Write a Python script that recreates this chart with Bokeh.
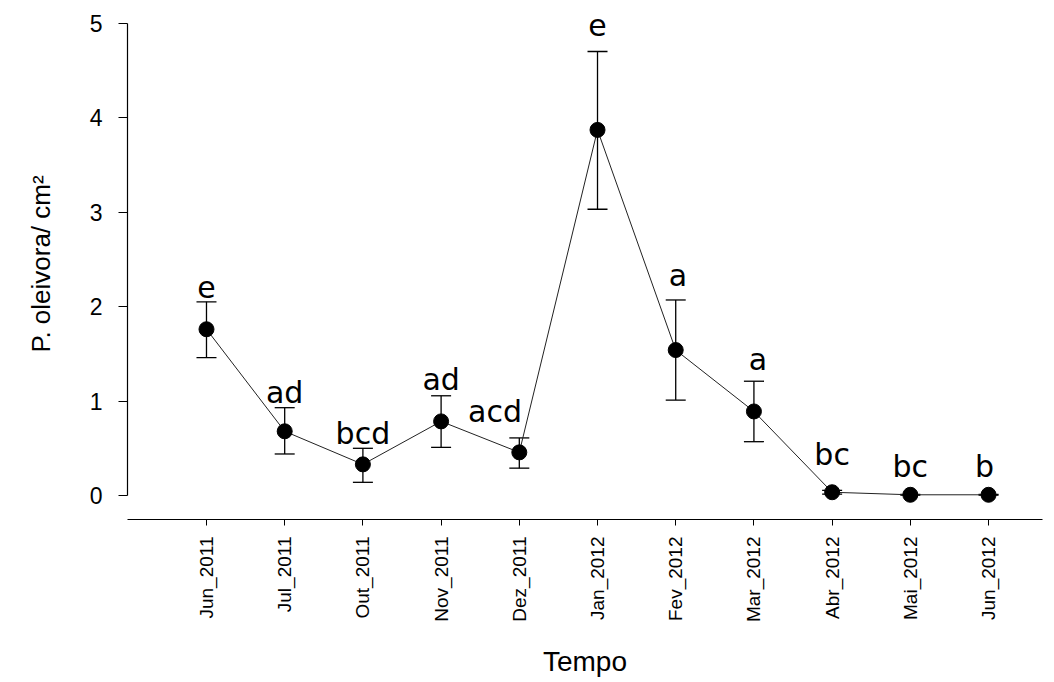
import numpy as np
from bokeh.plotting import figure
from bokeh.models import (ColumnDataSource, Range1d, FixedTicker, Whisker, TeeHead)
from bokeh.core.properties import value
from bokeh.embed import file_html
from bokeh.resources import INLINE

# ---------------- data ----------------
months = ["Jun_2011", "Jul_2011", "Out_2011", "Nov_2011", "Dez_2011", "Jan_2012",
          "Fev_2012", "Mar_2012", "Abr_2012", "Mai_2012", "Jun_2012"]
mean = [1.76, 0.68, 0.33, 0.785, 0.457, 3.87, 1.54, 0.89, 0.035, 0.008, 0.008]
upper = [2.05, 0.93, 0.50, 1.056, 0.61, 4.70, 2.07, 1.21, 0.055, 0.012, 0.012]
lower = [1.46, 0.44, 0.14, 0.51, 0.29, 3.03, 1.01, 0.57, 0.015, 0.004, 0.004]
letters = ["e", "ad", "bcd", "ad", "acd", "e", "a", "a", "bc", "bc", "b"]
# baseline height (data units) where each letter group sits
letter_y = [2.12, 1.01, 0.57, 1.14, 0.80, 4.90, 2.24, 1.36, 0.35, 0.22, 0.22]
# horizontal shift of the letter group, in category units
letter_dx = [0, 0, 0, 0, -0.31, 0, 0.03, 0.05, 0, 0, -0.05]
y_ticks = [0, 1, 2, 3, 4, 5]

x = list(range(len(months)))
src = ColumnDataSource(dict(x=x, mean=mean, upper=upper, lower=lower))
lab_src = ColumnDataSource(dict(x=[xi + d for xi, d in zip(x, letter_dx)],
                                y=letter_y, text=letters))

p = figure(width=1046, height=680, output_backend="svg", toolbar_location=None,
           x_range=Range1d(-1.01, 10.69), y_range=Range1d(-0.2535, 5.155),
           min_border_left=127, min_border_right=4, min_border_top=8,
           min_border_bottom=160)
p.outline_line_color = None
p.grid.visible = False
p.background_fill_color = "white"
p.border_fill_color = "white"

# connecting line
p.line("x", "mean", source=src, line_color="#222222", line_width=1)

# error bars
w = Whisker(source=src, base="x", upper="upper", lower="lower",
            line_color="black", line_width=1.3,
            upper_head=TeeHead(size=20, line_color="black", line_width=1.3),
            lower_head=TeeHead(size=20, line_color="black", line_width=1.3))
p.add_layout(w)

# points
p.scatter("x", "mean", source=src, size=15, color="black")

# significance letters
p.text("x", "y", text="text", source=lab_src, text_align="center",
       text_baseline="alphabetic", text_font=value("DejaVu Sans"),
       text_font_size="30px", text_color="black", y_offset=-8)

# y axis
ya = p.yaxis[0]
ya.bounds = (0, 5)
ya.ticker = FixedTicker(ticks=y_ticks)
ya.minor_tick_line_color = None
ya.major_tick_in = 0
ya.major_tick_out = 9
ya.major_label_standoff = 16
ya.major_label_text_font = "Liberation Sans"
ya.major_label_text_font_size = "23px"
ya.major_label_text_color = "black"
ya.axis_line_color = "black"
ya.axis_line_width = 1.2
ya.major_tick_line_color = "black"
ya.axis_label = "P. oleivora/ cm\u00b2"
ya.axis_label_text_font = "Liberation Sans"
ya.axis_label_text_font_style = "normal"
ya.axis_label_text_font_size = "26px"
ya.axis_label_text_color = "black"
ya.axis_label_standoff = 31

# x axis
xa = p.xaxis[0]
xa.ticker = FixedTicker(ticks=x)
xa.major_label_overrides = {i: m for i, m in zip(x, months)}
xa.major_label_orientation = np.pi / 2
xa.minor_tick_line_color = None
xa.major_tick_in = 0
xa.major_tick_out = 6
xa.major_label_standoff = 11
xa.major_label_text_font = "Liberation Sans"
xa.major_label_text_font_size = "19px"
xa.major_label_text_color = "black"
xa.axis_line_color = "black"
xa.axis_line_width = 1.2
xa.major_tick_line_color = "black"
xa.axis_label = "Tempo"
xa.axis_label_text_font = "Liberation Sans"
xa.axis_label_text_font_style = "normal"
xa.axis_label_text_font_size = "28px"
xa.axis_label_text_color = "black"
xa.axis_label_standoff = 21

open("out.html", "w").write(file_html(p, INLINE))
